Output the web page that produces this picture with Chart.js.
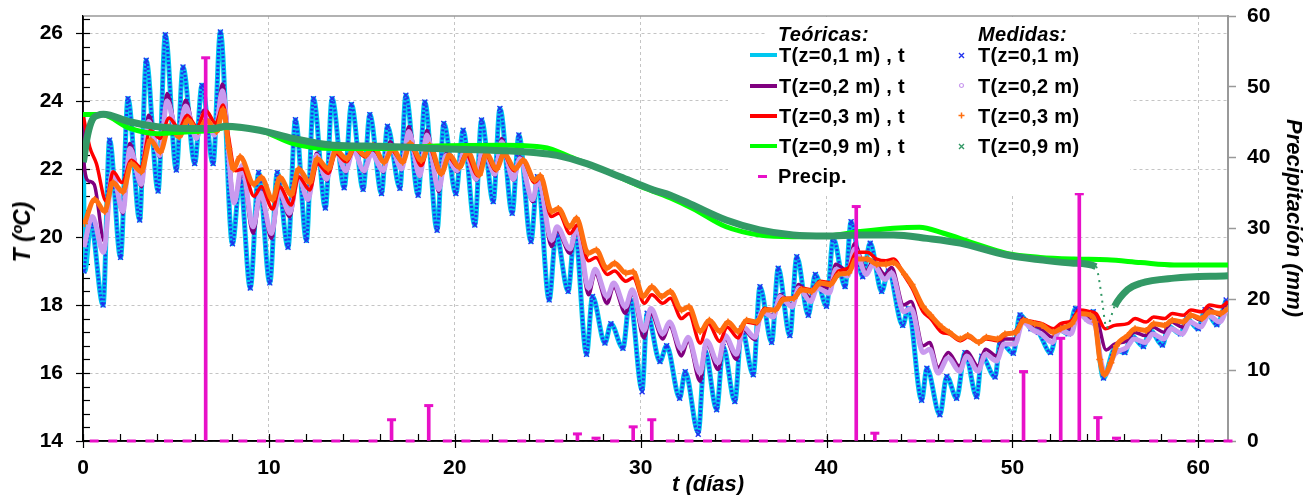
<!DOCTYPE html>
<html>
<head>
<meta charset="utf-8">
<script src="https://cdn.jsdelivr.net/npm/chart.js@4"></script>
<style>
  body { margin: 0; background: #fff; }
  #wrap { position: relative; width: 1315px; height: 495px; font-family: "Liberation Sans", Arial, sans-serif; font-weight: bold; color: #000; }
  #wrap .t { position: absolute; font-size: 20px; line-height: 20px; white-space: nowrap; letter-spacing: 0.3px; }
  #wrap .it { font-style: italic; }
  #wrap .ttl { position: absolute; font-size: 22px; line-height: 22px; white-space: nowrap; font-style: italic; }
  .ln { position: absolute; left: 750px; width: 27px; }
  .mk { position: absolute; left: 957px; width: 9px; height: 9px; }
  .bg { position: absolute; background: #fff; }
</style>
</head>
<body>
<div id="wrap">
  <canvas id="chartCanvas" width="1315" height="495"></canvas>

  <!-- legend boxes (white, hide the grid behind them) -->
  <div class="bg" style="left:765px;top:17px;width:365px;height:24px"></div>
  <div class="bg" style="left:728px;top:40px;width:402px;height:153px"></div>

  <div class="t it" style="left:778px;top:24px">Teóricas:</div>
  <div class="t it" style="left:978px;top:24px">Medidas:</div>

  <div class="ln" style="top:53px;height:4px;background:#00c8f0"></div>
  <div class="t" style="left:779px;top:45px">T(z=0,1 m) , t</div>
  <div class="ln" style="top:84px;height:3.5px;background:#80007f"></div>
  <div class="t" style="left:779px;top:75.5px">T(z=0,2 m) , t</div>
  <div class="ln" style="top:114px;height:3.5px;background:#ff0000"></div>
  <div class="t" style="left:779px;top:105.5px">T(z=0,3 m) , t</div>
  <div class="ln" style="top:144px;height:4px;background:#00ff00"></div>
  <div class="t" style="left:779px;top:136px">T(z=0,9 m) , t</div>
  <div style="position:absolute;left:758px;top:175px;width:9px;height:3px;background:#e810c8"></div>
  <div class="t" style="left:778px;top:166px">Precip.</div>

  <svg class="mk" style="top:50.5px" viewBox="0 0 9 9"><path d="M2 2L7 7M7 2L2 7" stroke="#2233ee" stroke-width="1.4"/></svg>
  <div class="t" style="left:978px;top:45px">T(z=0,1 m)</div>
  <svg class="mk" style="top:81px" viewBox="0 0 9 9"><circle cx="4.5" cy="4.5" r="2" fill="none" stroke="#c99aee" stroke-width="1.2"/></svg>
  <div class="t" style="left:978px;top:75.5px">T(z=0,2 m)</div>
  <svg class="mk" style="top:111px" viewBox="0 0 9 9"><path d="M4.5 1.5V7.5M1.5 4.5H7.5" stroke="#ff6f10" stroke-width="1.5"/></svg>
  <div class="t" style="left:978px;top:105.5px">T(z=0,3 m)</div>
  <svg class="mk" style="top:141.5px" viewBox="0 0 9 9"><path d="M2 2L7 7M7 2L2 7" stroke="#339966" stroke-width="1.4"/></svg>
  <div class="t" style="left:978px;top:136px">T(z=0,9 m)</div>

  <!-- axis titles -->
  <div class="ttl" style="left:708px;top:484px;transform:translate(-50%,-50%)">t (días)</div>
  <div class="ttl" style="left:22px;top:232px;font-size:23px;transform:translate(-50%,-50%) rotate(-90deg)">T (ºC)</div>
  <div class="ttl" style="left:1294px;top:218px;transform:translate(-50%,-50%) rotate(90deg)">Precipitación (mm)</div>
</div>

<script>
// Teóricas z=0,1 m  [día, T]
const theo01 = [[0,23.6],[0.1,19.0],[0.42,20.4],[1.08,18.0],[1.43,22.85],[2.02,19.4],[2.42,24.07],[3.05,20.5],[3.4,25.2],[4.04,21.35],[4.43,25.95],[5.02,21.97],[5.38,25.0],[6.01,22.16],[6.4,24.46],[7.0,22.16],[7.39,26.03],[8.04,19.8],[8.45,21.7],[9.0,18.5],[9.45,21.9],[10.05,18.65],[10.45,21.9],[11.03,19.7],[11.43,23.45],[12.02,19.9],[12.4,24.07],[13.04,20.85],[13.4,24.07],[14.05,21.45],[14.44,23.9],[15.07,21.4],[15.43,23.6],[16.06,21.28],[16.38,23.26],[17.05,21.43],[17.37,24.17],[18.03,21.23],[18.39,23.97],[19.05,20.2],[19.41,23.34],[20.06,21.28],[20.45,23.14],[21.08,20.35],[21.44,23.44],[22.07,21.04],[22.43,23.78],[23.09,20.7],[23.45,23.0],[24.1,19.87],[24.45,21.77],[25.08,18.15],[25.45,20.1],[26.1,18.4],[26.46,20.2],[27.09,16.55],[27.41,18.25],[28.08,16.88],[28.4,17.45],[29.05,16.73],[29.42,18.2],[30.08,15.5],[30.35,17.76],[31.04,16.34],[31.4,16.8],[32.1,15.26],[32.4,16.04],[33.1,14.25],[33.46,16.68],[34.09,14.92],[34.44,16.78],[35.07,15.16],[35.43,17.32],[36.06,15.95],[36.42,18.54],[37.05,16.9],[37.4,19.08],[38.03,17.1],[38.4,19.42],[39.02,17.7],[39.4,18.9],[40.0,17.96],[40.36,19.96],[41.0,18.54],[41.32,20.45],[41.95,18.83],[42.35,19.82],[42.97,18.4],[43.33,19.0],[44.1,17.4],[44.4,17.9],[45.12,15.2],[45.4,16.14],[46.1,14.77],[46.47,15.9],[47.0,15.26],[47.45,16.6],[48.08,15.3],[48.36,16.49],[49.07,15.88],[49.34,16.93],[50.05,16.58],[50.41,17.71],[51.0,17.3],[51.4,17.2],[52.05,16.6],[52.45,17.3],[53.0,17.15],[53.4,17.9],[54.0,17.6],[54.35,17.8],[54.9,15.85],[55.5,16.7],[56.05,16.6],[56.4,17.1],[57.05,16.78],[57.4,17.27],[58.07,16.82],[58.4,17.37],[59.05,17.15],[59.38,17.6],[60.0,17.3],[60.37,17.86],[61.0,17.42],[61.5,18.15]];

// Medidas z=0,1 m
const meas01 = [[0.05,19.0],[0.42,20.4],[1.08,18.0],[1.43,22.85],[2.02,19.4],[2.42,24.07],[3.05,20.5],[3.4,25.2],[4.04,21.35],[4.43,25.95],[5.02,21.97],[5.38,25.0],[6.01,22.16],[6.4,24.46],[7.0,22.16],[7.39,26.03],[8.04,19.8],[8.45,21.7],[9.0,18.5],[9.45,21.9],[10.05,18.65],[10.45,21.9],[11.03,19.7],[11.43,23.45],[12.02,19.9],[12.4,24.07],[13.04,20.85],[13.4,24.07],[14.05,21.45],[14.44,23.9],[15.07,21.4],[15.43,23.6],[16.06,21.28],[16.38,23.26],[17.05,21.43],[17.37,24.17],[18.03,21.23],[18.39,23.97],[19.05,20.2],[19.41,23.34],[20.06,21.28],[20.45,23.14],[21.08,20.35],[21.44,23.44],[22.07,21.04],[22.43,23.78],[23.09,20.7],[23.45,23.0],[24.1,19.87],[24.45,21.77],[25.08,18.15],[25.45,20.1],[26.1,18.4],[26.46,20.2],[27.09,16.55],[27.41,18.25],[28.08,16.88],[28.4,17.45],[29.05,16.73],[29.42,18.2],[30.08,15.45],[30.35,17.76],[31.04,16.34],[31.4,16.8],[32.1,15.26],[32.4,16.04],[33.1,14.2],[33.46,16.68],[34.09,14.92],[34.44,16.78],[35.07,15.16],[35.43,17.32],[36.06,15.95],[36.42,18.54],[37.05,16.9],[37.4,19.08],[38.03,17.1],[38.4,19.42],[39.02,17.7],[39.4,18.9],[40.0,17.96],[40.36,19.96],[41.0,18.54],[41.32,20.45],[41.95,18.83],[42.35,19.82],[42.97,18.4],[43.33,19.0],[44.1,17.4],[44.4,17.9],[45.12,15.2],[45.4,16.14],[46.1,14.77],[46.47,15.9],[47.0,15.26],[47.45,16.6],[48.08,15.3],[48.36,16.49],[49.07,15.88],[49.34,16.93],[50.05,16.58],[50.41,17.71],[51.0,17.3],[51.4,17.2],[52.05,16.6],[52.45,17.3],[53.0,17.15],[53.4,17.9],[54.0,17.6],[54.35,17.8],[54.9,15.85],[55.5,16.7],[56.05,16.6],[56.4,17.1],[57.05,16.78],[57.4,17.27],[58.07,16.82],[58.4,17.37],[59.05,17.15],[59.38,17.6],[60.0,17.3],[60.37,17.86],[61.0,17.42],[61.5,18.15]];

// Teóricas z=0,2 m
const theo02 = [[0,23.6],[0.05,22.2],[0.3,21.65],[0.6,21.55],[1.15,19.87],[1.58,21.8],[2.15,20.7],[2.52,22.75],[3.14,21.48],[3.53,23.58],[4.13,22.36],[4.52,24.22],[5.11,22.95],[5.52,24.02],[6.1,22.9],[6.5,23.73],[7.09,23.04],[7.5,24.5],[8.15,21.1],[8.55,21.9],[9.15,20.11],[9.55,21.19],[10.14,19.96],[10.55,21.28],[11.12,20.6],[11.57,21.77],[12.11,21.09],[12.56,22.46],[13.1,21.67],[13.55,22.65],[14.14,21.92],[14.53,22.6],[15.12,21.92],[15.52,22.5],[16.15,21.92],[16.52,22.8],[17.15,22.0],[17.52,23.24],[18.12,21.77],[18.5,23.14],[19.14,21.33],[19.52,22.46],[20.13,21.92],[20.54,22.6],[21.16,21.67],[21.52,22.7],[22.16,21.82],[22.52,22.9],[23.15,21.67],[23.5,22.36],[24.19,21.04],[24.5,21.67],[25.21,19.72],[25.5,20.2],[26.2,19.52],[26.58,20.2],[27.2,18.3],[27.55,18.94],[28.2,18.05],[28.55,18.54],[29.18,17.76],[29.55,18.35],[30.18,17.03],[30.55,17.75],[31.2,17.0],[31.55,17.4],[32.2,16.5],[32.55,16.95],[33.2,15.76],[33.55,16.88],[34.17,16.1],[34.54,17.03],[35.16,16.4],[35.52,17.27],[36.15,16.98],[36.52,17.8],[37.14,17.7],[37.5,18.3],[38.15,18.0],[38.5,18.6],[39.15,18.2],[39.5,18.6],[40.15,18.5],[40.5,19.2],[41.15,19.0],[41.5,19.8],[42.15,19.0],[42.5,19.3],[43.15,18.9],[43.5,19.1],[44.15,18.0],[44.55,18.1],[45.2,16.8],[45.55,16.9],[46.0,16.15],[46.55,16.6],[47.15,16.2],[47.55,16.63],[48.15,16.2],[48.55,16.7],[49.15,16.5],[49.55,17.0],[50.15,17.0],[50.55,17.6],[51.15,17.4],[51.55,17.3],[52.15,17.05],[52.55,17.4],[53.15,17.3],[53.55,17.85],[54.15,17.6],[54.45,17.7],[55.05,16.68],[55.5,16.85],[56.15,16.95],[56.55,17.2],[57.15,17.1],[57.55,17.35],[58.15,17.2],[58.55,17.5],[59.15,17.35],[59.55,17.7],[60.15,17.55],[60.55,17.9],[61.15,17.7],[61.55,18.05]];

// Medidas z=0,2 m
const meas02 = [[0.05,19.7],[0.5,20.6],[1.1,19.55],[1.58,21.9],[2.15,20.75],[2.52,22.6],[3.14,21.55],[3.53,23.4],[4.13,22.4],[4.52,24.0],[5.11,22.95],[5.52,23.85],[6.1,22.9],[6.5,23.6],[7.09,23.0],[7.5,24.3],[8.13,21.0],[8.55,22.1],[9.15,20.3],[9.55,21.3],[10.14,20.1],[10.55,21.35],[11.12,20.7],[11.57,21.8],[12.11,21.1],[12.56,22.4],[13.1,21.7],[13.55,22.6],[14.14,21.95],[14.53,22.55],[15.12,21.95],[15.52,22.45],[16.15,21.95],[16.52,22.7],[17.15,22.0],[17.52,23.1],[18.12,21.8],[18.5,23.0],[19.14,21.4],[19.52,22.4],[20.13,21.95],[20.54,22.55],[21.16,21.7],[21.52,22.65],[22.16,21.85],[22.52,22.8],[23.15,21.7],[23.5,22.3],[24.19,21.1],[24.5,21.7],[25.21,19.9],[25.5,20.3],[26.2,19.65],[26.58,20.3],[27.2,18.5],[27.55,19.05],[28.2,18.25],[28.55,18.65],[29.18,17.95],[29.55,18.45],[30.18,17.25],[30.55,17.9],[31.2,17.15],[31.55,17.5],[32.2,16.7],[32.55,17.05],[33.2,16.0],[33.55,16.95],[34.17,16.3],[34.54,17.1],[35.16,16.55],[35.52,17.35],[36.15,17.05],[36.52,17.8],[37.14,17.65],[37.5,18.25],[38.15,17.95],[38.5,18.5],[39.15,18.1],[39.5,18.5],[40.15,18.35],[40.5,19.05],[41.15,18.85],[41.5,19.65],[42.15,18.9],[42.5,19.2],[43.15,18.75],[43.5,18.95],[44.15,17.8],[44.55,17.9],[45.2,16.6],[45.55,16.7],[46.0,16.0],[46.55,16.45],[47.15,16.05],[47.55,16.5],[48.15,16.05],[48.55,16.55],[49.15,16.35],[49.55,16.85],[50.15,16.85],[50.55,17.5],[51.15,17.25],[51.55,17.15],[52.15,16.9],[52.55,17.25],[53.15,17.15],[53.55,17.75],[54.15,17.5],[54.45,17.4],[54.75,16.4],[55.0,15.95],[55.5,16.55],[56.15,16.75],[56.55,17.0],[57.15,16.9],[57.55,17.15],[58.15,17.0],[58.55,17.3],[59.15,17.15],[59.55,17.5],[60.15,17.35],[60.55,17.7],[61.15,17.5],[61.55,17.9]];

// Teóricas z=0,3 m
const theo03 = [[0,23.6],[0.36,22.65],[0.72,22.16],[1.25,21.05],[1.62,21.92],[2.1,21.6],[2.6,22.26],[3.1,22.05],[3.62,23.14],[4.15,22.9],[4.63,23.5],[5.17,23.19],[5.6,23.58],[6.14,23.24],[6.6,23.73],[7.14,23.34],[7.54,23.88],[7.8,23.05],[8.2,21.95],[8.6,22.0],[9.2,21.2],[9.6,21.48],[10.2,20.82],[10.58,21.48],[11.2,20.94],[11.6,21.77],[12.2,21.38],[12.6,22.16],[13.2,21.87],[13.6,22.46],[14.17,22.21],[14.62,22.6],[15.16,22.36],[15.6,22.6],[16.2,22.2],[16.6,22.55],[17.2,22.2],[17.6,22.7],[18.2,22.1],[18.6,22.65],[19.25,21.85],[19.65,22.35],[20.2,22.05],[20.6,22.45],[21.25,21.8],[21.65,22.45],[22.2,21.95],[22.6,22.45],[23.2,21.95],[23.65,22.25],[24.3,21.6],[24.6,21.75],[25.2,20.6],[25.6,20.7],[26.2,20.1],[26.6,20.35],[27.2,19.3],[27.6,19.4],[28.2,18.9],[28.6,19.0],[29.2,18.7],[29.6,18.8],[30.2,18.05],[30.6,18.3],[31.2,18.05],[31.6,18.2],[32.2,17.6],[32.6,17.75],[33.2,16.88],[33.65,17.45],[34.25,16.93],[34.65,17.35],[35.25,17.03],[35.65,17.5],[36.25,17.45],[36.65,17.9],[37.25,17.85],[37.65,18.2],[38.25,18.2],[38.65,18.5],[39.2,18.45],[39.65,18.7],[40.2,18.65],[40.65,19.0],[41.2,19.1],[41.6,19.55],[42.2,19.55],[42.7,19.35],[43.2,19.3],[43.6,19.35],[44.2,18.85],[44.6,18.5],[45.2,17.8],[45.6,17.6],[46.2,17.2],[46.6,17.15],[47.2,16.95],[47.6,17.05],[48.2,16.9],[48.6,17.0],[49.2,16.95],[49.6,17.1],[50.2,17.25],[50.6,17.55],[51.2,17.5],[51.6,17.45],[52.2,17.3],[52.6,17.45],[53.2,17.55],[53.6,17.85],[54.2,17.8],[54.5,17.75],[55.0,17.3],[55.5,17.4],[56.2,17.45],[56.6,17.6],[57.2,17.5],[57.6,17.65],[58.2,17.6],[58.6,17.75],[59.2,17.7],[59.6,17.85],[60.2,17.8],[60.6,18.0],[61.2,17.95],[61.6,18.1]];

// Medidas z=0,3 m
const meas03 = [[0.08,20.4],[0.63,21.1],[1.17,20.75],[1.6,21.6],[2.15,21.33],[2.6,22.16],[3.14,21.92],[3.62,22.85],[4.16,22.5],[4.63,23.24],[5.17,22.95],[5.65,23.44],[6.19,23.1],[6.64,23.44],[7.18,23.1],[7.54,23.75],[7.85,22.6],[8.1,22.0],[8.45,22.36],[9.2,21.55],[9.6,21.75],[10.2,21.1],[10.6,21.75],[11.2,21.25],[11.6,22.0],[12.2,21.6],[12.6,22.3],[13.2,22.0],[13.6,22.55],[14.2,22.3],[14.6,22.65],[15.2,22.4],[15.6,22.7],[16.2,22.2],[16.65,22.6],[17.2,22.2],[17.6,22.75],[18.2,22.25],[18.65,22.7],[19.28,21.87],[19.71,22.41],[20.25,22.05],[20.7,22.5],[21.32,21.82],[21.7,22.45],[22.25,22.0],[22.65,22.45],[23.25,22.0],[23.68,22.26],[24.31,21.67],[24.6,21.8],[25.21,20.75],[25.57,20.84],[26.19,20.3],[26.55,20.55],[27.18,19.52],[27.62,19.62],[28.17,19.08],[28.6,19.23],[29.2,18.94],[29.6,18.98],[30.14,18.25],[30.6,18.54],[31.14,18.25],[31.6,18.4],[32.2,17.85],[32.6,17.95],[33.2,17.22],[33.7,17.55],[34.26,17.22],[34.7,17.5],[35.25,17.22],[35.7,17.55],[36.25,17.5],[36.7,17.85],[37.25,17.85],[37.65,18.15],[38.25,18.2],[38.65,18.45],[39.2,18.4],[39.65,18.65],[40.2,18.6],[40.65,18.9],[41.2,18.95],[41.6,19.35],[42.2,19.35],[42.7,19.2],[43.2,19.2],[43.6,19.25],[44.2,18.9],[44.6,18.6],[45.2,17.95],[45.6,17.7],[46.2,17.35],[46.6,17.2],[47.2,17.0],[47.6,17.1],[48.2,16.9],[48.6,17.05],[49.2,17.0],[49.6,17.15],[50.2,17.2],[50.6,17.55],[51.2,17.45],[51.6,17.4],[52.2,17.2],[52.6,17.3],[53.2,17.45],[53.6,17.75],[54.2,17.7],[54.45,17.5],[54.7,16.4],[54.95,15.95],[55.3,16.3],[55.6,16.8],[56.2,17.1],[56.6,17.3],[57.2,17.25],[57.6,17.45],[58.2,17.4],[58.6,17.55],[59.2,17.5],[59.6,17.7],[60.2,17.6],[60.6,17.8],[61.2,17.75],[61.6,17.9]];

// Teóricas z=0,9 m
const theo09 = [[0,23.6],[1.0,23.6],[2.5,23.2],[4.0,23.04],[5.5,23.09],[7.0,23.14],[7.7,23.22],[9.5,23.14],[11.3,22.75],[13.45,22.6],[16.0,22.6],[19.0,22.68],[22.6,22.7],[24.4,22.66],[25.1,22.6],[26.2,22.36],[28.0,21.97],[29.8,21.53],[31.6,21.15],[32.8,20.84],[34.6,20.3],[36.4,20.06],[38.2,20.01],[40.0,20.03],[41.8,20.16],[43.6,20.26],[45.0,20.29],[46.3,20.11],[47.9,19.82],[49.7,19.52],[51.5,19.4],[53.3,19.35],[55.1,19.33],[56.9,19.25],[58.7,19.18],[61.6,19.18]];

// Medidas z=0,9 m
const meas09 = [[0.02,22.2],[0.25,23.0],[0.5,23.45],[0.8,23.58],[1.1,23.61],[2.5,23.39],[4.0,23.24],[5.5,23.19],[7.0,23.19],[7.7,23.26],[9.5,23.14],[11.3,22.9],[13.45,22.7],[16.0,22.67],[19.0,22.6],[22.6,22.54],[24.4,22.48],[25.5,22.4],[27.1,22.16],[28.9,21.77],[30.7,21.38],[31.6,21.23],[32.8,20.94],[34.6,20.5],[36.4,20.21],[38.2,20.06],[40.0,20.03],[41.8,20.06],[43.6,20.06],[45.4,19.96],[47.2,19.82],[49.7,19.47],[51.5,19.33],[53.3,19.23],[54.5,19.13],[54.6,18.94],[54.8,18.25],[54.96,17.57],[55.05,17.32],[55.5,17.96],[56.2,18.45],[56.9,18.64],[58.7,18.79],[61.6,18.86]];

// Precipitación diaria [día, mm]
const precip = [[0.6,0],[1.6,0],[2.6,0],[3.6,0],[4.6,0],[5.6,0],[6.6,54.1],[7.6,0],[8.6,0],[9.6,0],[10.6,0],[11.6,0],[12.6,0],[13.6,0],[14.6,0],[15.6,0],[16.6,3.0],[17.6,0],[18.6,5.0],[19.6,0],[20.6,0],[21.6,0],[22.6,0],[23.6,0],[24.6,0],[25.6,0],[26.6,1.0],[27.6,0.4],[28.6,0],[29.6,2.0],[30.6,3.0],[31.6,0],[32.6,0],[33.6,0],[34.6,0],[35.6,0],[36.6,0],[37.6,0],[38.6,0],[39.6,0],[40.6,0],[41.6,33.1],[42.6,1.1],[43.6,0],[44.6,0],[45.6,0],[46.6,0],[47.6,0],[48.6,0],[49.6,0],[50.6,9.8],[51.6,0],[52.6,14.5],[53.6,34.9],[54.6,3.3],[55.6,0.4],[56.6,0],[57.6,0],[58.6,0],[59.6,0],[60.6,0],[61.6,0]];

// Axis ticks
const tempTicks = [14, 16, 18, 20, 22, 24, 26];
const dayTicks = [0, 10, 20, 30, 40, 50, 60];
const precipTicks = [0, 10, 20, 30, 40, 50, 60];

const toPts = arr => arr.map(p => ({ x: p[0], y: p[1] }));
const MAGENTA = '#e810c8';

Chart.defaults.font.family = '"Liberation Sans", Arial, sans-serif';

// axis lines and the small tick marks (Excel style)
const axisDecor = {
    id: 'axisDecor',
    beforeDatasetsDraw(chart) {
        const { ctx, chartArea: a, scales } = chart;
        ctx.save();
        // top border
        ctx.strokeStyle = '#999';
        ctx.lineWidth = 1.5;
        ctx.beginPath();
        ctx.moveTo(a.left, a.top);
        ctx.lineTo(a.right, a.top);
        ctx.stroke();

        ctx.strokeStyle = '#000';
        ctx.lineWidth = 1.5;
        ctx.beginPath();
        ctx.moveTo(a.left, a.top);
        ctx.lineTo(a.left, a.bottom);
        ctx.lineTo(a.right, a.bottom);
        ctx.stroke();

        // left axis ticks (minor every 0.4, major every 2)
        ctx.lineWidth = 1.2;
        for (let i = 0; i <= 31; i++) {
            const py = Math.round(scales.y.getPixelForValue(14 + i * 0.4)) + 0.5;
            ctx.beginPath();
            ctx.moveTo(i % 5 === 0 ? a.left - 7 : a.left, py);
            ctx.lineTo(a.left + 7, py);
            ctx.stroke();
        }
        // bottom axis ticks (minor every 2 days, major every 10)
        for (let i = 0; i <= 30; i++) {
            const px = Math.round(scales.x.getPixelForValue(i * 2)) + 0.5;
            ctx.beginPath();
            ctx.moveTo(px, a.bottom - 7);
            ctx.lineTo(px, (i * 2) % 10 === 0 ? a.bottom + 7 : a.bottom);
            ctx.stroke();
        }
        ctx.restore();
    }
};

const tickFont = { size: 21, weight: 'bold' };

// fix the axis sizes so the plot area matches the original
function fixVertical(width) {
    return s => { s.width = width; s.paddingTop = 0; s.paddingBottom = 0; };
}

const ctx = document.getElementById('chartCanvas').getContext('2d');
const tempChart = new Chart(ctx, {
    type: 'line',
    data: {
        datasets: [
            {
                label: 'Precip.', data: toPts(precip), yAxisID: 'y2',
                showLine: false, pointStyle: 'line', pointRadius: 4.5,
                pointBorderWidth: 3, borderColor: MAGENTA, backgroundColor: MAGENTA, clip: false
            },
            {
                type: 'bar', label: 'Precip. bar', data: toPts(precip), yAxisID: 'y2',
                backgroundColor: MAGENTA, barThickness: 3, grouped: false
            },
            {
                label: 'T(z=0,9 m)', data: toPts(meas09), borderColor: '#339966',
                borderWidth: 7, pointRadius: 0, cubicInterpolationMode: 'monotone',
                segment: {
                    borderWidth: c => (c.p0.parsed.x >= 54.5 && c.p1.parsed.x <= 55.6 ? 2 : 7),
                    borderDash: c => (c.p0.parsed.x >= 54.5 && c.p1.parsed.x <= 55.6 ? [2, 5] : undefined)
                }
            },
            {
                label: 'T(z=0,9 m) , t', data: toPts(theo09), borderColor: '#00ff00',
                borderWidth: 5, pointRadius: 0, cubicInterpolationMode: 'monotone'
            },
            {
                label: 'T(z=0,3 m)', data: toPts(meas03), borderColor: '#ff6f10',
                borderWidth: 5, pointStyle: 'cross', pointRadius: 3.5, pointBorderWidth: 1.5,
                cubicInterpolationMode: 'monotone'
            },
            {
                label: 'T(z=0,3 m) , t', data: toPts(theo03), borderColor: '#ff0000',
                borderWidth: 3.5, pointRadius: 0, cubicInterpolationMode: 'monotone'
            },
            {
                label: 'T(z=0,2 m)', data: toPts(meas02), borderColor: '#c99aee',
                borderWidth: 5, pointRadius: 0, cubicInterpolationMode: 'monotone'
            },
            {
                label: 'T(z=0,2 m) , t', data: toPts(theo02), borderColor: '#80007f',
                borderWidth: 3.5, pointRadius: 0, cubicInterpolationMode: 'monotone'
            },
            {
                label: 'T(z=0,1 m)', data: toPts(meas01), borderColor: '#2233ee',
                borderWidth: 3, borderDash: [2, 2], pointStyle: 'crossRot', pointRadius: 3.5,
                pointBorderWidth: 1.4, cubicInterpolationMode: 'monotone'
            },
            {
                label: 'T(z=0,1 m) , t', data: toPts(theo01), borderColor: '#00c8f0',
                borderWidth: 5, pointRadius: 0, cubicInterpolationMode: 'monotone'
            }
        ]
    },
    options: {
        responsive: false,
        animation: false,
        devicePixelRatio: 1,
        layout: { padding: { top: 16, left: 0, right: 0, bottom: 0 } },
        plugins: { legend: { display: false }, tooltip: { enabled: false } },
        scales: {
            x: {
                type: 'linear', min: 0, max: 61.6, offset: false,
                grid: { offset: false, color: '#c4c4c4', drawTicks: false },
                border: { color: '#000', width: 1.5, dash: [3, 3] },
                afterBuildTicks: s => { s.ticks = dayTicks.map(v => ({ value: v })); },
                ticks: { color: '#000', font: tickFont, padding: 15, maxRotation: 0 },
                afterFit: s => { s.height = 54; s.paddingLeft = 0; s.paddingRight = 0; }
            },
            y: {
                type: 'linear', position: 'left', min: 14, max: 26.5,
                grid: { color: '#c4c4c4', drawTicks: false },
                border: { color: '#000', width: 1.5, dash: [3, 3] },
                afterBuildTicks: s => { s.ticks = tempTicks.map(v => ({ value: v })); },
                ticks: { color: '#000', font: tickFont, padding: 20 },
                afterFit: fixVertical(83)
            },
            y2: {
                type: 'linear', position: 'right', min: 0, max: 60,
                grid: { drawOnChartArea: false, tickColor: '#999', tickLength: 8, tickWidth: 1.5 },
                border: { color: '#999', width: 2 },
                afterBuildTicks: s => { s.ticks = precipTicks.map(v => ({ value: v })); },
                ticks: { color: '#000', font: tickFont, padding: 11 },
                afterFit: fixVertical(87)
            }
        }
    },
    plugins: [axisDecor]
});
</script>
</body>
</html>
